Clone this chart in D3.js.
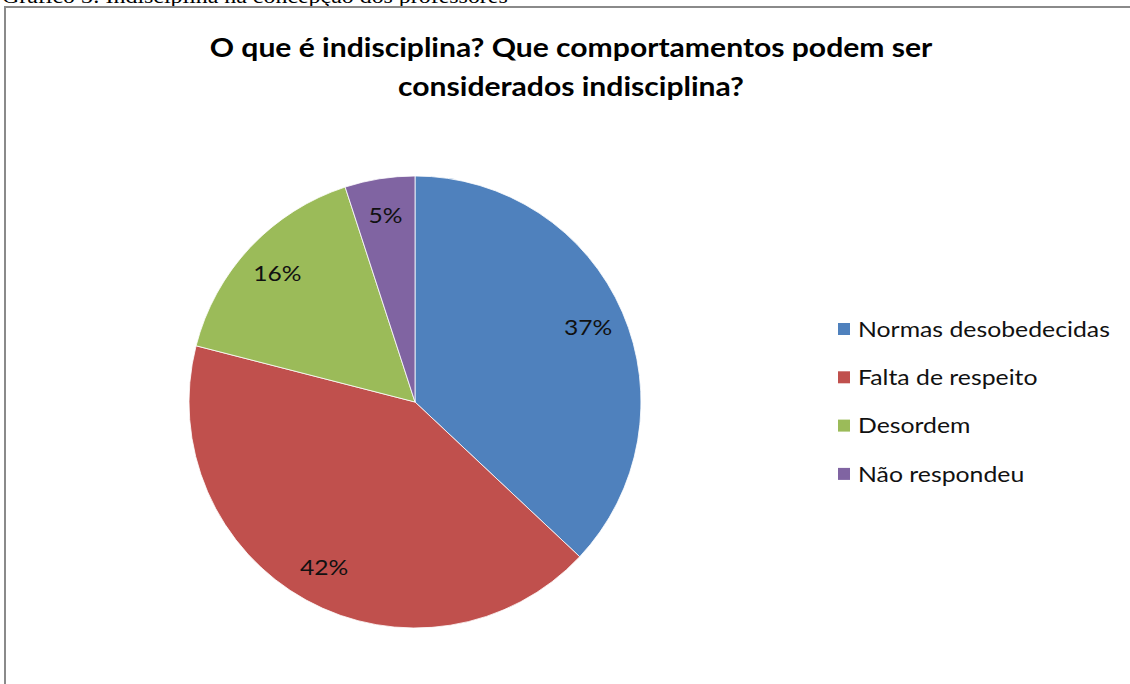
<!DOCTYPE html>
<html>
<head>
<meta charset="utf-8">
<script src="https://cdn.jsdelivr.net/npm/d3@7"></script>
<style>
  body { margin: 0; background: #fff; }
</style>
</head>
<body>
<div id="chart"></div>
<script>

// chart data
var categories = ["Normas desobedecidas", "Falta de respeito", "Desordem", "Não respondeu"]
var values = [37, 42, 16, 5]
var colors = ["#4F81BD", "#C0504D", "#9BBB59", "#8064A2"]
var titleLines = ["O que é indisciplina? Que comportamentos podem ser", "considerados indisciplina?"]
var caption = "Gráfico 3: Indisciplina na concepção dos professores"

var width = 1130
var height = 684

var data = categories.map(function(c, i) { return { name: c, value: values[i], color: colors[i] } })

var svg = d3.select("#chart")
  .append("svg")
    .attr("width", width)
    .attr("height", height)

// the source image is a bit wider than the fonts we have, so texts get stretched to fit
function stretch(sel, targetWidth, x) {
  var w = sel.node().getComputedTextLength()
  return targetWidth / w
}

// caption cut at top of the page
var cap = svg.append("text")
  .attr("y", 3)
  .style("font-family", "'Liberation Serif', serif")
  .style("font-size", "20px")
  .text(caption)
var capScale = stretch(cap, 506)
cap.attr("transform", "translate(2,0) scale(" + capScale + ",1)")

// frame of the chart area
svg.append("rect")
  .attr("x", 5)
  .attr("y", 7)
  .attr("width", width + 20)
  .attr("height", height + 20)
  .attr("fill", "none")
  .attr("stroke", "#8a8a8a")
  .attr("stroke-width", 2)

// title
var titles = svg.append("g")
  .selectAll("text")
  .data(titleLines)
  .enter()
  .append("text")
    .attr("y", function(d, i) { return 57 + i * 39 })
    .attr("text-anchor", "middle")
    .style("font-family", "Lato, 'Open Sans', sans-serif")
    .style("font-weight", "bold")
    .style("font-size", "26px")
    .style("fill", "#000")
    .text(function(d) { return d })
var titleScale = stretch(titles.filter(function(d, i) { return i == 0 }), 723)
titles.attr("transform", "translate(571,0) scale(" + titleScale + ",1)")

// pie
var cx = 415, cy = 402, radius = 226

var pie = d3.pie()
  .value(function(d) { return d.value })
  .sort(null)

var arc = d3.arc()
  .innerRadius(0)
  .outerRadius(radius)

var labelArc = d3.arc()
  .innerRadius(radius * 0.835)
  .outerRadius(radius * 0.835)

var g = svg.append("g")
  .attr("transform", "translate(" + cx + "," + cy + ")")

var slices = g.selectAll("g.slice")
  .data(pie(data))
  .enter()
  .append("g")
  .attr("class", "slice")

slices.append("path")
  .attr("d", arc)
  .attr("fill", function(d) { return d.data.color })
  .attr("stroke", "#fff")
  .attr("stroke-width", 0.8)

slices.append("text")
  .attr("transform", function(d) { return "translate(" + labelArc.centroid(d) + ") scale(1.12,1)" })
  .attr("dy", "0.35em")
  .attr("text-anchor", "middle")
  .style("font-family", "Lato, 'Open Sans', sans-serif")
  .style("font-size", "22px")
  .style("fill", "#111")
  .text(function(d) { return d.data.value + "%" })

// legend
var legend = svg.append("g")
  .attr("transform", "translate(838,329)")

var items = legend.selectAll("g")
  .data(data)
  .enter()
  .append("g")
  .attr("transform", function(d, i) { return "translate(0," + (i * 48.3) + ")" })

items.append("rect")
  .attr("x", 0)
  .attr("y", -6)
  .attr("width", 12)
  .attr("height", 12)
  .attr("fill", function(d) { return d.color })

var legendText = items.append("text")
  .attr("dy", "0.35em")
  .style("font-family", "Lato, 'Open Sans', sans-serif")
  .style("font-size", "22px")
  .style("fill", "#111")
  .text(function(d) { return d.name })
var legendScale = stretch(legendText.filter(function(d, i) { return i == 0 }), 252)
legendText.attr("transform", "translate(20,0) scale(" + legendScale + ",1)")

</script>
</body>
</html>
